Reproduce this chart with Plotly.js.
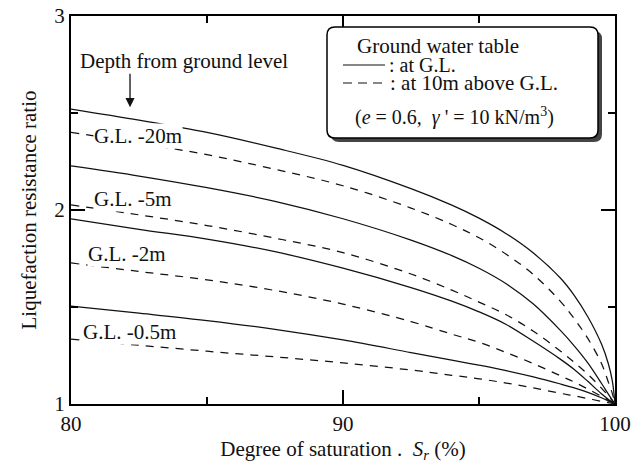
<!DOCTYPE html>
<html>
<head>
<meta charset="utf-8">
<script src="https://cdn.plot.ly/plotly-3.0.1.min.js"></script>
<style>
  html, body { margin: 0; padding: 0; background: #fff; }
  #chart { width: 631px; height: 463px; }
</style>
</head>
<body>
<div id="chart"></div>
<script>
// Degree of saturation Sr (%)
const sr = [80, 82.5, 85, 87.5, 90, 92.5, 94, 95, 96, 97, 98, 98.5, 99, 99.5, 99.75, 99.9, 100];

// Liquefaction resistance ratio, ground water table at G.L. (solid)
const gl20Solid = [2.52, 2.463, 2.40, 2.32, 2.23, 2.11, 2.025, 1.958, 1.878, 1.778, 1.648, 1.56, 1.45, 1.31, 1.21, 1.12, 1.0];
const gl5Solid  = [2.227, 2.175, 2.115, 2.045, 1.955, 1.845, 1.765, 1.70, 1.62, 1.515, 1.378, 1.30, 1.212, 1.107, 1.052, 1.02, 1.0];
const gl2Solid  = [1.954, 1.90, 1.85, 1.785, 1.70, 1.60, 1.53, 1.475, 1.41, 1.323, 1.23, 1.178, 1.117, 1.053, 1.025, 1.01, 1.0];
const gl05Solid = [1.505, 1.468, 1.43, 1.385, 1.33, 1.265, 1.226, 1.20, 1.172, 1.14, 1.103, 1.083, 1.06, 1.032, 1.016, 1.006, 1.0];

// Ground water table 10 m above G.L. (dashed)
const gl20Dash  = [2.40, 2.345, 2.285, 2.21, 2.125, 2.01, 1.925, 1.857, 1.772, 1.667, 1.528, 1.44, 1.338, 1.21, 1.115, 1.055, 1.0];
const gl5Dash   = [2.026, 1.975, 1.92, 1.855, 1.78, 1.67, 1.587, 1.525, 1.46, 1.375, 1.272, 1.215, 1.153, 1.082, 1.043, 1.018, 1.0];
const gl2Dash   = [1.727, 1.683, 1.64, 1.585, 1.515, 1.425, 1.36, 1.318, 1.265, 1.208, 1.145, 1.113, 1.077, 1.04, 1.02, 1.008, 1.0];
const gl05Dash  = [1.335, 1.303, 1.272, 1.243, 1.212, 1.175, 1.148, 1.13, 1.108, 1.083, 1.055, 1.042, 1.028, 1.014, 1.007, 1.003, 1.0];

const xTickVals = [80, 90, 100];
const yTickVals = [1, 2, 3];

// depth labels: [text, Sr, ratio]
const depthLabels = [
  ['G.L. -20m', 80.81, 2.381],
  ['G.L. -5m', 80.81, 2.057],
  ['G.L. -2m', 80.59, 1.773],
  ['G.L. -0.5m', 80.40, 1.371]
];

const FONT = 'Liberation Serif, Times New Roman, serif';

function curve(y, dashed) {
  return {
    x: sr, y: y, type: 'scatter', mode: 'lines', showlegend: false,
    hoverinfo: 'skip',
    line: { color: '#111', width: 1.25, shape: 'spline', smoothing: 1,
            dash: dashed ? '8px,7px' : 'solid' }
  };
}

const traces = [
  curve(gl20Solid, false), curve(gl20Dash, true),
  curve(gl5Solid, false),  curve(gl5Dash, true),
  curve(gl2Solid, false),  curve(gl2Dash, true),
  curve(gl05Solid, false), curve(gl05Dash, true)
];

// plot area in pixels (the key box is placed in paper coordinates)
const M = { l: 71, r: 16, t: 16, b: 59 };
const W = 631, H = 463;
const PW = W - M.l - M.r, PH = H - M.t - M.b;
const px = v => (v - M.l) / PW;
const py = v => (H - M.b - v) / PH;

function roundRect(x0, y0, x1, y1, r) {
  const rx = r / PW, ry = r / PH;
  const a = px(x0), b = px(x1), top = py(y0), bot = py(y1);
  return `M ${a + rx},${top} L ${b - rx},${top} Q ${b},${top} ${b},${top - ry} ` +
         `L ${b},${bot + ry} Q ${b},${bot} ${b - rx},${bot} L ${a + rx},${bot} ` +
         `Q ${a},${bot} ${a},${bot + ry} L ${a},${top - ry} Q ${a},${top} ${a + rx},${top} Z`;
}

const shapes = [
  // shadow of the key box
  { type: 'path', xref: 'paper', yref: 'paper', path: roundRect(331, 31, 602, 142, 8),
    fillcolor: '#444', line: { width: 0 } },
  // key box
  { type: 'path', xref: 'paper', yref: 'paper', path: roundRect(327, 27, 598, 138, 8),
    fillcolor: '#fff', line: { color: '#000', width: 1.5 } },
  // key samples
  { type: 'line', xref: 'paper', yref: 'paper', x0: px(343), x1: px(385), y0: py(65), y1: py(65),
    line: { color: '#111', width: 1.2 } },
  { type: 'line', xref: 'paper', yref: 'paper', x0: px(343), x1: px(387), y0: py(83), y1: py(83),
    line: { color: '#111', width: 1.2, dash: '9px,6px' } }
];

const annotations = depthLabels.map(([t, x, y]) => ({
  text: t, x: x, y: y, xref: 'x', yref: 'y', xanchor: 'left', yanchor: 'middle',
  showarrow: false, bgcolor: '#fff', borderpad: 0,
  font: { family: FONT, size: 21, color: '#111' }
}));

annotations.push(
  { text: 'Depth from ground level', x: 80.26, y: 2.768, xref: 'x', yref: 'y',
    xanchor: 'left', yanchor: 'middle', showarrow: false,
    font: { family: FONT, size: 21, color: '#111' } },
  { text: '', x: 82.17, y: 2.53, xref: 'x', yref: 'y', ax: 0, ay: -35,
    showarrow: true, arrowhead: 2, arrowsize: 1.4, arrowwidth: 1.3, arrowcolor: '#111' },
  { text: 'Ground water table', x: px(355), y: py(46), xref: 'paper', yref: 'paper',
    xanchor: 'left', yanchor: 'middle', showarrow: false,
    font: { family: FONT, size: 21, color: '#111' } },
  { text: ': at G.L.', x: px(387), y: py(65), xref: 'paper', yref: 'paper',
    xanchor: 'left', yanchor: 'middle', showarrow: false,
    font: { family: FONT, size: 20, color: '#111' } },
  { text: ': at 10m above G.L.', x: px(388), y: py(83), xref: 'paper', yref: 'paper',
    xanchor: 'left', yanchor: 'middle', showarrow: false,
    font: { family: FONT, size: 21, color: '#111' } },
  { text: '(<i>e</i> = 0.6,  <i>γ</i> \' = 10 kN/m<sup>3</sup>)', x: px(353), y: py(117),
    xref: 'paper', yref: 'paper', xanchor: 'left', yanchor: 'middle', showarrow: false,
    font: { family: FONT, size: 20, color: '#111' } }
);

const layout = {
  width: W, height: H,
  margin: M,
  paper_bgcolor: '#fff', plot_bgcolor: '#fff',
  showlegend: false,
  font: { family: FONT, size: 21, color: '#111' },
  xaxis: {
    range: [80, 100], tickvals: xTickVals, ticks: 'inside', ticklen: 14, tickwidth: 1.5,
    tickcolor: '#000', showline: true, linewidth: 2, linecolor: '#000', mirror: 'ticks',
    showgrid: false, zeroline: false,
    minor: { dtick: 5, tick0: 80, ticks: 'inside', ticklen: 7, tickwidth: 1.5, tickcolor: '#000', showgrid: false },
    tickfont: { family: FONT, size: 21, color: '#111' },
    title: { text: 'Degree of saturation .  <i>S<sub>r</sub></i> (%)', standoff: 8,
             font: { family: FONT, size: 21, color: '#111' } }
  },
  yaxis: {
    range: [1, 3], tickvals: yTickVals, ticks: 'inside', ticklen: 14, tickwidth: 1.5,
    tickcolor: '#000', showline: true, linewidth: 2, linecolor: '#000', mirror: 'ticks',
    showgrid: false, zeroline: false,
    minor: { dtick: 0.5, tick0: 1, ticks: 'inside', ticklen: 7, tickwidth: 1.5, tickcolor: '#000', showgrid: false },
    tickfont: { family: FONT, size: 21, color: '#111' },
    title: { text: 'Liquefaction resistance ratio', standoff: 12,
             font: { family: FONT, size: 21, color: '#111' } }
  },
  shapes: shapes,
  annotations: annotations
};

Plotly.newPlot('chart', traces, layout, { staticPlot: true, displayModeBar: false });
</script>
</body>
</html>
